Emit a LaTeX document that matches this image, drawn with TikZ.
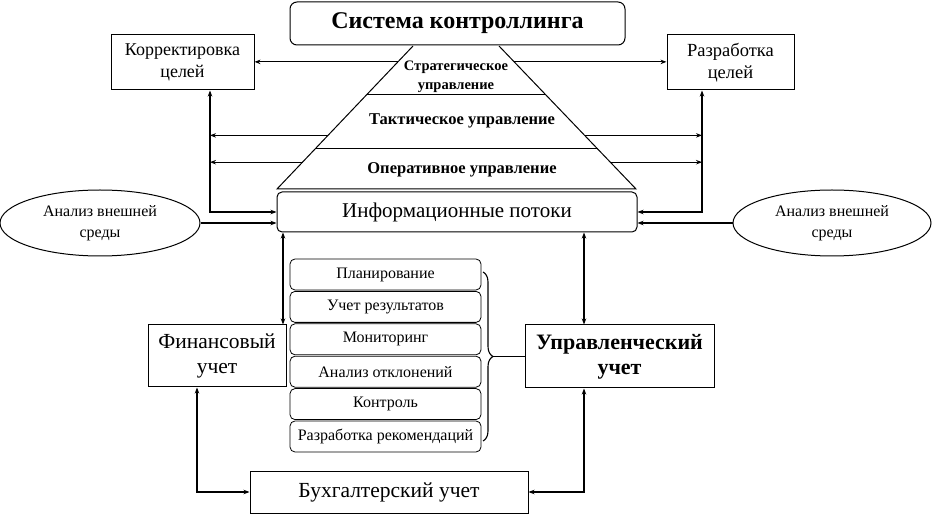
\documentclass[tikz,border=0pt]{standalone}
\usepackage{fontspec}
\setmainfont{Liberation Serif}
\usetikzlibrary{arrows.meta,calc,shapes.geometric,decorations.pathreplacing}

\begin{document}
\begin{tikzpicture}[x=1pt,y=-1pt,
  >={Stealth[length=6pt,width=4.5pt]},
  line width=1pt,
  box/.style={draw, rectangle, align=center, inner sep=1pt},
  rbox/.style={draw, rectangle, rounded corners=5pt, align=center, inner sep=1pt},
  ell/.style={draw, ellipse, align=center, inner sep=0pt},
  item/.style={rbox, line width=0.8pt, minimum width=191pt, minimum height=31pt, font=\fontsize{16}{18}\selectfont},
  lvl/.style={font=\bfseries\fontsize{16.5}{18}\selectfont, align=center},
  link/.style={line width=1.1pt}]
  \useasboundingbox (0,0) rectangle (932,518);

  % Title
  \node[rbox, rounded corners=7pt, minimum width=335pt, minimum height=43pt,
        font=\bfseries\fontsize{24}{26}\selectfont] (sys) at (457.5,23.5) {Система контроллинга};

  % Goals
  \node[box, minimum width=143pt, minimum height=55pt, font=\fontsize{18}{22}\selectfont] (kor) at (182.5,62.5) {Корректировка\\целей};
  \node[box, minimum width=127pt, minimum height=55pt, font=\fontsize{18.5}{22}\selectfont] (raz) at (730.5,62.5) {Разработка\\целей};

  % Pyramid
  \coordinate (pA) at (413,46);
  \coordinate (pB) at (499,46);
  \coordinate (pC) at (636,189);
  \coordinate (pD) at (277,189);
  \draw (pA) -- (pD) -- (pC) -- (pB);
  \draw ($(pA)!0.34!(pD)$) -- ($(pB)!0.34!(pC)$);
  \draw ($(pA)!0.72!(pD)$) -- ($(pB)!0.72!(pC)$);
  \node[lvl, font=\bfseries\fontsize{14.5}{19}\selectfont] (strat) at (456,77) {Стратегическое\\управление};
  \node[lvl] (takt) at (462,121) {Тактическое управление};
  \node[lvl] (oper) at (462,170) {Оперативное управление};

  % Information flows
  \node[rbox, minimum width=360pt, minimum height=40pt, font=\fontsize{21}{23}\selectfont] (info) at (457,212) {Информационные потоки};
  \node[ell, minimum width=200pt, minimum height=66pt, font=\fontsize{16}{21}\selectfont] (ellL) at (100,223) {Анализ внешней\\среды};
  \node[ell, minimum width=198pt, minimum height=66pt, font=\fontsize{16}{21}\selectfont] (ellR) at (832,223) {Анализ внешней\\среды};

  % Arrows of the pyramid
  \coordinate (lx) at (210,0);
  \coordinate (rx) at (702,0);
  \coordinate (sL) at ($(pA)!0.111!(pD)$);
  \coordinate (sR) at ($(pB)!0.111!(pC)$);
  \coordinate (tL) at ($(pA)!0.625!(pD)$);
  \coordinate (tR) at ($(pB)!0.625!(pC)$);
  \coordinate (oL) at ($(pA)!0.8125!(pD)$);
  \coordinate (oR) at ($(pB)!0.8125!(pC)$);
  \draw[link,->] (sL) -- (sL -| kor.east);
  \draw[link,->] (sR) -- (sR -| raz.west);
  \draw[link,->] (tL) -- (tL -| lx);
  \draw[link,->] (oL) -- (oL -| lx);
  \draw[link,->] (tR) -- (tR -| rx);
  \draw[link,->] (oR) -- (oR -| rx);
  \draw[link,<->] (kor.south -| lx) |- (info.west);
  \draw[link,<->] (raz.south -| rx) |- (info.east);
  \draw[link,->] (ellL.east) -- (ellL.east -| info.west);
  \draw[link,->] (ellR.west) -- (ellR.west -| info.east);

  % Accounting
  \node[box, minimum width=138pt, minimum height=62pt, font=\fontsize{21.5}{25}\selectfont] (fin) at (217,356) {Финансовый\\учет};
  \node[box, minimum width=189pt, minimum height=63pt, font=\bfseries\fontsize{22}{25}\selectfont] (upr) at (619.5,356.5) {Управленческий\\учет};
  \node[box, minimum width=278pt, minimum height=42pt, font=\fontsize{21.5}{23}\selectfont] (buh) at (389,492) {Бухгалтерский учет};

  % Functions
  \foreach \name/\txt [count=\i from 0] in {plan/Планирование, res/Учет результатов, mon/Мониторинг,
      dev/Анализ отклонений, ctrl/Контроль, rec/Разработка рекомендаций}
    \node[item] (\name) at (385.5,274.5+32.4*\i) {\txt};
  \draw[link, decorate, decoration={brace, amplitude=10pt}] (483,272) -- (483,441)
    coordinate[midway, xshift=10pt] (bt);
  \draw[link] (bt) -- (bt -| upr.west);

  \coordinate (fx) at (283,0);
  \coordinate (ux) at (584,0);
  \coordinate (bx) at (197,0);
  \draw[link,<->] (info.south -| fx) -- (fin.north -| fx);
  \draw[link,<->] (info.south -| ux) -- (upr.north -| ux);
  \draw[link,<->] (fin.south -| bx) |- (buh.west);
  \draw[link,<->] (upr.south -| ux) |- (buh.east);
\end{tikzpicture}
\end{document}
